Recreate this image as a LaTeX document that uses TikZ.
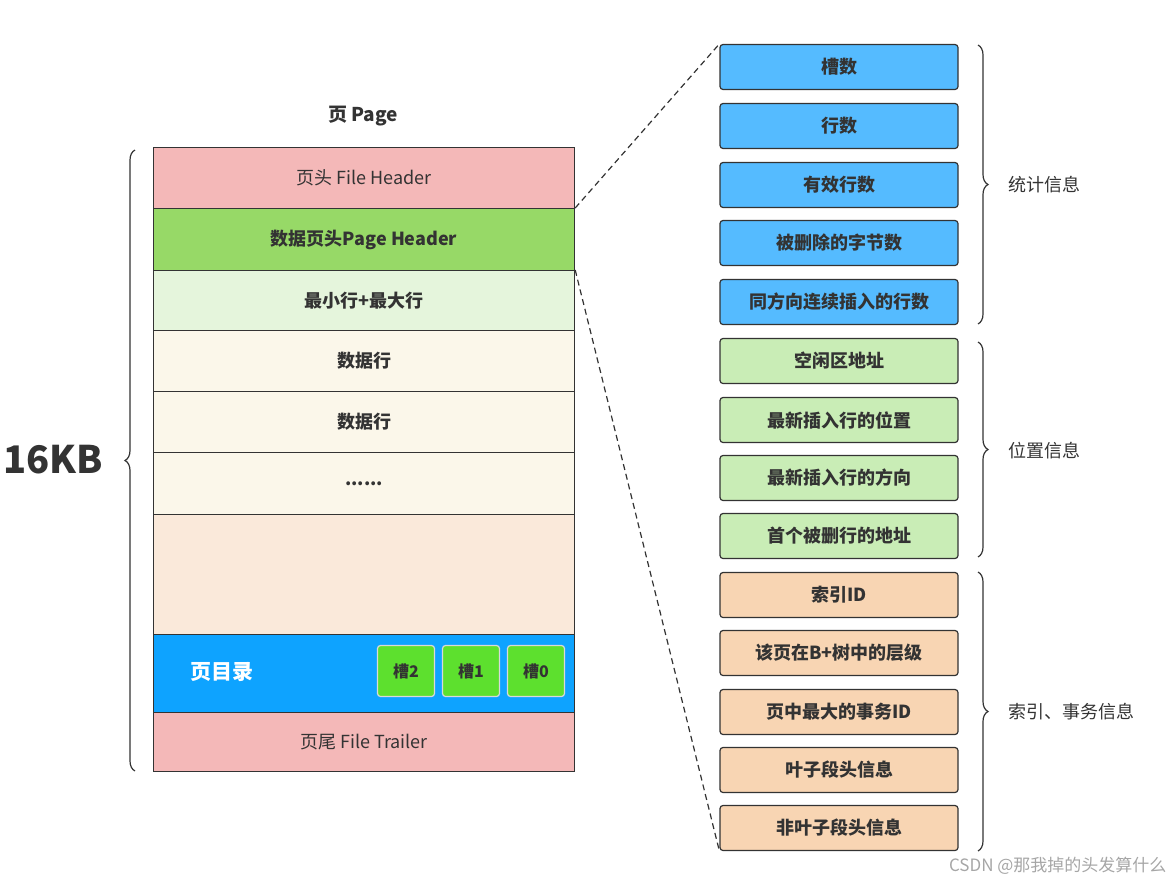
\documentclass[tikz,border=0pt]{standalone}
\usepackage{fontspec}
\setmainfont{Noto Sans CJK SC}
\usetikzlibrary{decorations.pathreplacing}
\definecolor{pk}{HTML}{F4B8B8}
\definecolor{gr}{HTML}{97D967}
\definecolor{lg}{HTML}{E5F5DC}
\definecolor{cr}{HTML}{FBF7EA}
\definecolor{pe}{HTML}{FAE9DA}
\definecolor{bl}{HTML}{0EA3FF}
\definecolor{sg}{HTML}{5DE02E}
\definecolor{rb}{HTML}{55BBFF}
\definecolor{rg}{HTML}{C9EDB6}
\definecolor{ro}{HTML}{F8D5B3}
\definecolor{tx}{HTML}{333333}
\begin{document}
\begin{tikzpicture}[x=1pt,y=-1pt,every node/.style={text=tx},
 row/.style={draw=tx,line width=1.2pt,minimum width=421pt,inner sep=0pt,anchor=north west,font=\fontsize{18}{20}\selectfont},
 rb/.style={draw=tx,line width=1.2pt,rounded corners=3pt,minimum width=238pt,minimum height=45pt,font=\bfseries\fontsize{18}{20}\selectfont},
 slot/.style={draw=white!85!black,line width=1.2pt,fill=sg,rounded corners=3pt,minimum width=57pt,minimum height=51pt,font=\bfseries\fontsize{16}{18}\selectfont},
 br/.style={decorate,decoration={brace,amplitude=10pt},line width=1.2pt,draw=tx},
 lab/.style={font=\fontsize{18}{20}\selectfont,anchor=west}]
\useasboundingbox (0,0) rectangle (1172,887);
\node[font=\bfseries\fontsize{19}{21}\selectfont] (t) at (363,116) {页 Page};
\node[row,fill=pk,minimum height=61pt] (r1) at (153,147) {页头 File Header};
\node[row,fill=gr,minimum height=62pt,font=\bfseries\fontsize{18}{20}\selectfont] (r2) at (153,208) {数据页头Page Header};
\node[row,fill=lg,minimum height=60pt,font=\bfseries\fontsize{18}{20}\selectfont] (r3) at (153,270) {最小行+最大行};
\node[row,fill=cr,minimum height=61pt,font=\bfseries\fontsize{18}{20}\selectfont] (r4) at (153,330) {数据行};
\node[row,fill=cr,minimum height=61pt,font=\bfseries\fontsize{18}{20}\selectfont] (r5) at (153,391) {数据行};
\node[row,fill=cr,minimum height=62pt,font=\bfseries\fontsize{18}{20}\selectfont] (r6) at (153,452) {......};
\node[row,fill=pe,minimum height=120pt] (r7) at (153,514) {};
\node[row,fill=bl,minimum height=78pt] (r8) at (153,634) {};
\node[row,fill=pk,minimum height=59pt] (r9) at (153,712) {页尾 File Trailer};
\node[text=white,font=\bfseries\fontsize{21}{23}\selectfont] (pd) at (222,672) {页目录};
\node[slot] (s2) at (406,671) {槽2};
\node[slot] (s1) at (471,671) {槽1};
\node[slot] (s0) at (536,671) {槽0};
\draw[br] (135,771) -- (135,150);
\node[font=\bfseries\fontsize{38}{42}\selectfont] (kb) at (53,460) {16KB};
\foreach \n/\y/\t in {a1/67/槽数,a2/126/行数,a3/185/有效行数,a4/243/被删除的字节数,a5/302/同方向连续插入的行数}
 \node[rb,fill=rb] (\n) at (839,\y) {\t};
\foreach \n/\y/\t in {b1/361/空闲区地址,b2/420/最新插入行的位置,b3/478/最新插入行的方向,b4/536/首个被删行的地址}
 \node[rb,fill=rg] (\n) at (839,\y) {\t};
\foreach \n/\y/\t in {c1/595/索引ID,c2/653/该页在B+树中的层级,c3/712/页中最大的事务ID,c4/770/叶子段头信息,c5/828/非叶子段头信息}
 \node[rb,fill=ro] (\n) at (839,\y) {\t};
\draw[br] (978,45) -- (978,324);
\draw[br] (978,342) -- (978,557);
\draw[br] (978,572) -- (978,851);
\node[lab] (l1) at (1005,185) {统计信息};
\node[lab] (l2) at (1005,451) {位置信息};
\node[lab] (l3) at (1005,712) {索引、事务信息};
\draw[dash pattern=on 6pt off 4pt,line width=1.2pt,draw=tx] (r2.north east) -- (a1.north west);
\draw[dash pattern=on 6pt off 4pt,line width=1.2pt,draw=tx] (r3.north east) -- (c5.south west);
\node[text=black!35,font=\fontsize{17}{19}\selectfont,anchor=east] (wm) at (1170,866) {CSDN @那我掉的头发算什么};
\end{tikzpicture}
\end{document}
